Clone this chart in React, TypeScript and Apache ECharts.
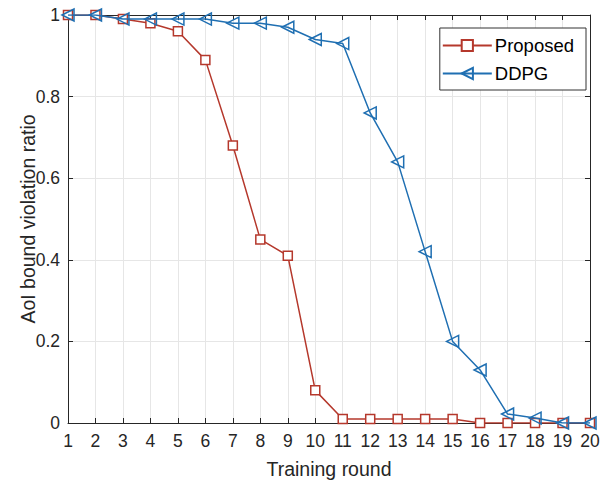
import React, { useEffect, useRef } from "react";
import * as echarts from "echarts";

const rounds = ["1","2","3","4","5","6","7","8","9","10","11","12","13","14","15","16","17","18","19","20"];
const proposed = [1, 1, 0.99, 0.98, 0.96, 0.89, 0.68, 0.45, 0.41, 0.08, 0.01, 0.01, 0.01, 0.01, 0.01, 0, 0, 0, 0, 0];
const ddpg = [1, 1, 0.99, 0.99, 0.99, 0.99, 0.98, 0.98, 0.97, 0.94, 0.93, 0.76, 0.64, 0.42, 0.2, 0.13, 0.022, 0.012, 0, 0];

const RED = "#B5382C";
const BLUE = "#1F6FB2";
const AX = "#262626";
const FONT = "Liberation Sans, Arial, Helvetica, sans-serif";

export default function App() {
  const ref = useRef<HTMLDivElement>(null);
  useEffect(() => {
    if (!ref.current) return;
    const chart = echarts.init(ref.current, null, { renderer: "svg" });
    const axisCommon = {
      axisLine: { show: true, onZero: false, lineStyle: { color: AX, width: 1 } },
      axisTick: { show: true, inside: true, length: 5, lineStyle: { color: AX } },
    };
    chart.setOption({
      animation: false,
      textStyle: { fontFamily: FONT },
      grid: { left: 68, right: 12, top: 15, bottom: 60, containLabel: false, outerBoundsMode: "none" },
      legend: {
        orient: "vertical",
        right: 16,
        top: 28,
        itemWidth: 49,
        itemHeight: 14,
        itemGap: 9,
        padding: [8, 12, 7, 2],
        backgroundColor: "#fff",
        borderColor: "#333",
        borderWidth: 1,
        borderRadius: 0,
        textStyle: { fontSize: 18.5, color: "#000", fontFamily: FONT, padding: [0, 0, 0, -2] },
        data: ["Proposed", "DDPG"],
      },
      xAxis: [
        {
          type: "category",
          data: rounds,
          boundaryGap: false,
          ...axisCommon,
          axisLabel: { color: AX, fontSize: 17.5, margin: 9, interval: 0 },
          splitLine: { show: true, lineStyle: { color: "#E6E6E6" } },
          name: "Training round",
          nameLocation: "middle",
          nameGap: 36,
          nameTextStyle: { color: AX, fontSize: 19.5 },
        },
        {
          type: "category",
          data: rounds,
          boundaryGap: false,
          position: "top",
          ...axisCommon,
          axisLabel: { show: false },
          splitLine: { show: false },
        },
      ],
      yAxis: [
        {
          type: "value",
          min: 0,
          max: 1,
          interval: 0.2,
          ...axisCommon,
          axisLabel: { color: AX, fontSize: 17.5, margin: 8 },
          splitLine: { show: true, lineStyle: { color: "#E6E6E6" } },
          name: "AoI bound violation ratio",
          nameLocation: "middle",
          nameGap: 30,
          nameMoveOverlap: false,
          nameTextStyle: { color: AX, fontSize: 19.5 },
        },
        {
          type: "value",
          min: 0,
          max: 1,
          interval: 0.2,
          position: "right",
          ...axisCommon,
          axisLabel: { show: false },
          splitLine: { show: false },
        },
      ],
      series: [
        {
          name: "Proposed",
          type: "line",
          data: proposed,
          symbol: "rect",
          symbolSize: 9,
          showAllSymbol: true,
          color: RED,
          lineStyle: { color: RED, width: 1.5 },
          itemStyle: { color: "#fff", borderColor: RED, borderWidth: 1.5 },
          z: 3,
        },
        {
          name: "DDPG",
          type: "line",
          data: ddpg,
          symbol: "triangle",
          symbolRotate: 90,
          symbolSize: 12,
          showAllSymbol: true,
          color: BLUE,
          lineStyle: { color: BLUE, width: 1.5 },
          itemStyle: { color: "rgba(255,255,255,0)", borderColor: BLUE, borderWidth: 1.5 },
          z: 4,
        },
      ],
    });
    return () => chart.dispose();
  }, []);
  return <div ref={ref} style={{ width: 602, height: 483, position: "fixed", left: 0, top: 0, background: "#fff" }} />;
}
